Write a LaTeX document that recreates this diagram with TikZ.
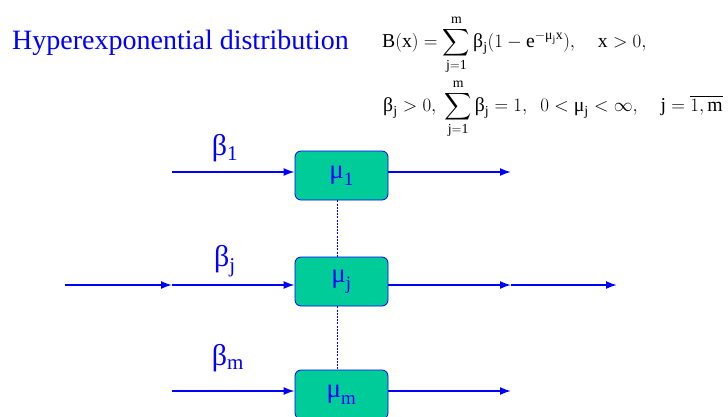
\documentclass[tikz,border=0pt]{standalone}
\usepackage{amsmath}
\usepackage{fontspec}
\setmainfont{Liberation Serif}
\usepackage{tikz}
\usetikzlibrary{arrows.meta,positioning}
\definecolor{srvfill}{RGB}{0,204,153}
\newcommand{\gb}{\text{β}}
\newcommand{\gm}{\text{μ}}
\tikzset{
  server/.style={draw=blue,line width=0.8pt,rounded corners=6pt,fill=srvfill,
    minimum width=93pt,minimum height=49pt,inner sep=0pt,text=blue,
    font=\fontsize{27}{30}\selectfont},
  flow/.style={blue,line width=1.7pt,-{Latex[length=11pt,width=8pt]}},
  link/.style={blue,line width=1.3pt,dash pattern=on 2pt off 1.2pt},
  prob/.style={text=blue,font=\fontsize{30}{34}\selectfont},
  formula/.style={anchor=base west,inner sep=0pt,scale=1.095,transform shape,
    font=\fontsize{18}{21}\selectfont},
}

\begin{document}
\begin{tikzpicture}[x=1pt,y=-1pt]
\useasboundingbox (0,0) rectangle (728,416);
% title and formulas
\node[anchor=base west,inner sep=0pt,text=blue,font=\fontsize{28}{32}\selectfont]
  (title) at (12,49) {Hyperexponential distribution};
\node[formula] (form1) at (382,47)
  {$\displaystyle\mathrm{B(x)}=\sum_{\mathrm{j=1}}^{\mathrm{m}}\gb_{\mathrm j}(1-\mathrm{e}^{-\gm_{\mathrm j}\mathrm{x}}),\quad \mathrm{x}>0,$};
\node[formula] (form2) at (383,111)
  {$\displaystyle\gb_{\mathrm j}>0,\ \sum_{\mathrm{j=1}}^{\mathrm{m}}\gb_{\mathrm j}=1,\ \ 0<\gm_{\mathrm j}<\infty,\quad \mathrm{j}=\overline{1,\mathrm{m}}$};
% servers
\node[server] (b1) at (341.5,175.5) {$\gm_{\mathrm 1}$};
\node[server] (bj) at (341.5,281.5) {$\gm_{\mathrm j}$};
\node[server] (bm) at (341.5,394.5) {$\gm_{\mathrm m}$};
% branch ends
\coordinate (in1) at (172,172);
\coordinate (out1) at (511,172);
\coordinate (inj) at (65,285);
\coordinate (midj) at (172,285);
\coordinate (outj) at (511,285);
\coordinate (endj) at (617,285);
\coordinate (inm) at (172,391);
\coordinate (outm) at (511,391);
% arrows
\draw[flow] (in1) -- (in1 -| b1.west);
\draw[flow] (out1 -| b1.east) -- (out1);
\draw[flow] (inj) -- (midj);
\draw[flow] (midj) -- (midj -| bj.west);
\draw[flow] (outj -| bj.east) -- (outj);
\draw[flow] (outj) -- (endj);
\draw[flow] (inm) -- (inm -| bm.west);
\draw[flow] (outm -| bm.east) -- (outm);
\draw[link] ([xshift=-4pt]b1.south) -- ([xshift=-4pt]bj.north);
\draw[link] ([xshift=-4pt]bj.south) -- ([xshift=-4pt]bm.north);
% probabilities
\node[prob] (p1) at (225,148) {\gb\textsubscript{1}};
\node[prob] (pj) at (225,261) {\gb\textsubscript{j}};
\node[prob] (pm) at (228,358) {\gb\textsubscript{m}};
\end{tikzpicture}
\end{document}
